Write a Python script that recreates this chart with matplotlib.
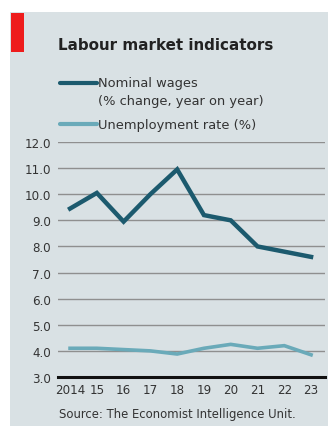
import matplotlib
matplotlib.use("Agg")
import matplotlib.pyplot as plt
from matplotlib.patches import Rectangle
from matplotlib.lines import Line2D

years = [2014, 2015, 2016, 2017, 2018, 2019, 2020, 2021, 2022, 2023]
year_labels = ["2014", "15", "16", "17", "18", "19", "20", "21", "22", "23"]
nominal_wages = [9.45, 10.05, 8.95, 10.0, 10.95, 9.2, 9.0, 8.0, 7.8, 7.6]
unemployment = [4.1, 4.1, 4.05, 4.0, 3.88, 4.1, 4.25, 4.1, 4.2, 3.85]
y_ticks = [3.0, 4.0, 5.0, 6.0, 7.0, 8.0, 9.0, 10.0, 11.0, 12.0]

bg = "#d9e1e4"
dark = "#1c5a6e"
light = "#6aaab9"

W, H = 328, 427
fig = plt.figure(figsize=(W / 100, H / 100), dpi=100)
fig.patch.set_facecolor("white")

# panel background and red tag
fig.patches.append(Rectangle((10 / W, 0), 1 - 10 / W, 1 - 13 / H,
                             transform=fig.transFigure, facecolor=bg,
                             edgecolor="none", zorder=-2))
fig.patches.append(Rectangle((11 / W, 1 - 53 / H), 13 / W, 39 / H,
                             transform=fig.transFigure, facecolor="#ee1c1c",
                             edgecolor="none", zorder=-1))

fig.text(58 / W, 1 - 46 / H, "Labour market indicators", fontsize=10.9,
         fontweight="bold", color="#222222", va="center", ha="left")

# legend
for y0, col, lines in [(84, dark, ["Nominal wages", "(% change, year on year)"]),
                       (125, light, ["Unemployment rate (%)"])]:
    fig.lines.append(Line2D([60 / W, 97 / W], [1 - y0 / H, 1 - y0 / H],
                            transform=fig.transFigure, color=col, lw=3,
                            solid_capstyle="round"))
    for i, t in enumerate(lines):
        fig.text(98 / W, 1 - (y0 + 18 * i) / H, t, fontsize=9.4,
                 color="#333333", va="center", ha="left")

ax = fig.add_axes([58 / W, 1 - 378 / H, (325 - 58) / W, (378 - 143) / H])
ax.set_zorder(2)
ax.set_facecolor("none")
ax.set_xlim(2013.55, 2023.52)
ax.set_ylim(3.0, 12.0)

for y in y_ticks[1:]:
    ax.axhline(y, color="#8f8f8f", lw=1.0, zorder=1)
ax.axhline(3.0, color="#111111", lw=2.2, zorder=4, clip_on=False)

ax.plot(years, unemployment, color=light, lw=2.6, zorder=3,
        solid_joinstyle="miter")
ax.plot(years, nominal_wages, color=dark, lw=3.2, zorder=3,
        solid_joinstyle="miter")

for s in ax.spines.values():
    s.set_visible(False)
ax.set_yticks(y_ticks)
ax.set_yticklabels([f"{v:.1f}" for v in y_ticks], fontsize=8.6, color="#333333")
ax.set_xticks(years)
ax.set_xticklabels(year_labels, fontsize=8.6, color="#333333")
ax.tick_params(axis="y", length=0, pad=5)
ax.tick_params(axis="x", length=0, pad=4)

fig.text(177.5 / W, 1 - 415 / H, "Source: The Economist Intelligence Unit.",
         fontsize=8.4, color="#333333", va="center", ha="center")

fig.savefig("out.png", dpi=100, facecolor=fig.get_facecolor())
